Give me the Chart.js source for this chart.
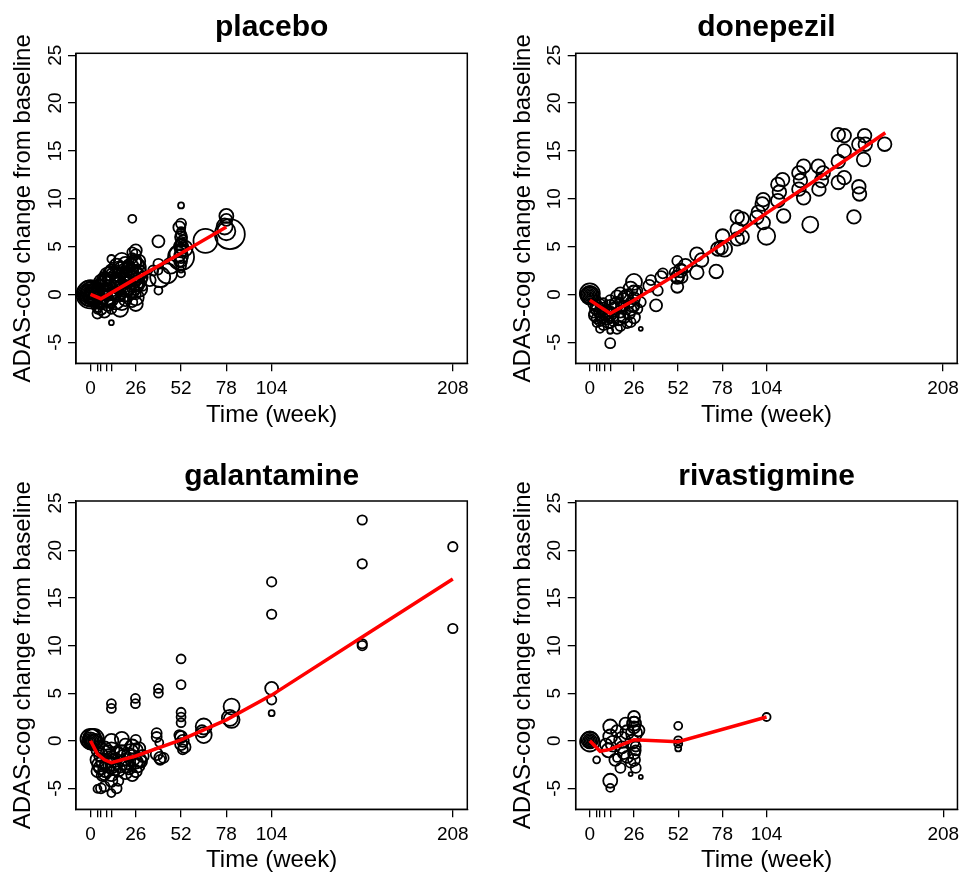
<!DOCTYPE html>
<html>
<head>
<meta charset="utf-8">
<script src="https://cdn.jsdelivr.net/npm/chart.js@4.4.0/dist/chart.umd.min.js"></script>
<style>
html, body { margin: 0; padding: 0; background: #fff; }
#wrap { position: relative; width: 969px; height: 875px; overflow: hidden; }
canvas { position: absolute; }
</style>
</head>
<body>
<div id="wrap">
  <canvas id="c1" width="485" height="437" style="left:0px;top:0px"></canvas>
  <canvas id="c2" width="484" height="437" style="left:485px;top:0px"></canvas>
  <canvas id="c3" width="485" height="438" style="left:0px;top:437px"></canvas>
  <canvas id="c4" width="484" height="438" style="left:485px;top:437px"></canvas>
</div>
<script>
// axis ticks (minor ticks at 4, 6, 9, 12 carry no label, as in R when labels overlap)
var xTicks = [0, 4, 6, 9, 12, 26, 52, 78, 104, 208];
var xTickLabels = ["0", "", "", "", "", "26", "52", "78", "104", "208"];
var yTicks = [-5, 0, 5, 10, 15, 20, 25];

// placebo: study arms (week, ADAS-cog change, n)
var placeboWeeks = [0,0,0,0,0,0,0,0,0,0,0,1,1,2,2,2,
    4,4,4,4,4,4,4, 6,6,6,6,6, 8,8,8,8,8,8,
    12,12,12,12,12,12,12,12,12,
    16,16,16,17,18,18,18,20,20,20,22,22,
    24,24,24,24,24,24,24, 26,26,26,26,26,26,26,26,26,
    28,28,30,30,34,36,39,39,39,39,40,
    52,52,52,52,52,52,52,52,51,52,52,50,54,52,53,51,
    66,78,78,78,80,77,
    5,7,9,10,11,13,14,15,16,18,19,20,21,22,23,24,25,26,27,28,10,14,18,22,26,8,12,16,20,24,
    44,46,52,52,52,52,52];
var placeboChange = [0,0,0,0,0,0,0,0,0,0.1,-0.1,0.2,-0.2,0,0.3,-0.4,
    -0.5,0.2,-1.2,0.8,-0.2,-2.0,-1.6, 0.3,-0.8,1.0,-1.5,0, 1.6,0.5,-0.5,1.5,-1.8,0.2,
    0.5,1.5,-0.5,2.5,3.7,-1.5,-2.95,0.8,-1.0,
    1.2,2.8,0,-1.5,3.5,1.8,0.6,2.3,1.5,-0.6,0.5,3.0,
    1.5,4.4,3.8,7.9,-0.8,0.4,2.5, 4.2,2.0,1.0,3.5,0,-1.0,-0.3,4.6,2.8,
    3.5,1.2,1.8,0.8,1.5,2.5,5.55,0.4,3.2,2.5,1.8,
    2.2,3.0,3.9,4.5,5.0,5.5,6.0,6.6,7.0,7.4,9.3,4.2,4.8,2.6,5.8,3.4,
    5.6,8.2,7.8,6.6,6.3,7.1,
    0.5,1.2,0.0,2.0,1.0,2.2,-0.5,3.0,0.6,2.6,1.0,3.2,0.2,1.8,2.9,1.2,3.4,1.6,2.2,0.6,-1.0,1.8,-0.8,2.4,3.0,0.9,2.0,1.5,0.8,2.0,
    2.2,3.0,4.0,5.2,6.3,3.5,4.8];
var placeboN = [1,6,16,30,49,72,100,144,196,169,121,121,81,100,64,49,
    81,49,36,25,121,25,16, 64,36,25,36,100, 49,49,81,36,36,16,
    100,64,49,36,16,25,6,144,16,
    64,36,49,64,64,100,36,81,49,36,36,25,
    81,25,25,16,25,49,36, 25,64,49,36,25,49,64,36,100,
    36,25,25,16,36,25,36,16,25,16,100,
    16,25,169,36,49,25,36,16,36,25,9,64,64,9,16,25,
    144,49,36,81,225,64,
    100,81,121,64,144,81,100,49,121,64,144,49,81,100,64,144,49,121,81,64,49,100,64,81,64,100,81,144,100,121,
    100,64,49,36,25,36,25];
var placeboFitWeeks = [0, 6, 26, 52, 78];
var placeboFitChange = [0, -0.45, 1.65, 4.3, 7.05];

// donepezil
var donepezilWeeks = [0,0,0,0,0,0,0,0,
    2,2,3,4,4,4,4,6,6,6,6,8,8,8,8,10,10,12,12,12,12,12,12,12,
    14,14,16,16,16,18,18,18,20,20,20,22,22,24,24,24,24,26,26,26,26,26,28,28,30,30,
    35,36,39,40,42,43,50,51.5,51.5,51.5,54,54,
    146.3,149.8,161.8,158.4,162.2,173.6,149.8,161.2,146.3,149.8,146.3,158.4,158.8,155.5,
    134.5,137.4,136.4,134.9,125.9,123.1,124,123.1,125.9,129.8,
    113.5,110.7,111.6,110.7,114.1,102.1,101.5,99.2,102.1,104,98.3,
    86.8,89.7,86.8,89.7,86.8,78.2,77.3,75.4,79.2,74.4,65.8,63,63,56.3,53.4,51.5,
    3,5,7,9,11,13,15,17,19,21,23,25];
var donepezilChange = [0,0,0,0,0,0,0.1,-0.1,
    -1.0,-2.0,-1.5,-2.5,-1.2,-3.0,-0.5,-1.8,-2.8,-3.6,-1.0,-2.2,-1.5,-3.2,-0.8,-2.5,-1.8,-2.0,-1.2,-3.0,-3.8,-5.1,-2.6,-0.6,
    -1.5,-2.8,-0.2,-1.0,-3.6,0.1,-1.8,-3.3,-0.6,-2.4,-1.2,-0.1,-3.0,0.6,-1.6,-2.9,-0.8,1.3,0.2,-2.4,-1.3,-0.4,0.4,-1.5,-3.6,-0.8,
    0.9,1.5,-1.15,0.4,1.8,2.2,2.3,3.5,0.8,1.8,1.8,2.6,
    16.7,16.6,16.6,15.7,15.7,15.7,15.0,14.1,13.9,12.2,11.7,11.25,10.5,8.1,
    13.4,12.7,11.9,11.0,13.4,12.7,11.9,11.0,10.1,7.3,
    12.0,11.5,10.7,9.8,8.2,9.9,9.45,8.6,7.5,6.1,8.05,
    8.1,7.9,6.8,6.0,5.8,6.1,4.9,4.75,4.75,2.4,3.6,4.2,2.3,3.0,2.5,1.8,
    -2.2,-1.6,-2.4,-1.9,-2.9,-2.2,-1.0,-2.5,-1.4,-0.3,-2.0,-1.1];
var donepezilN = [1,6,16,30,49,72,100,85,
    25,16,25,25,36,16,16,36,25,16,25,49,36,25,16,36,25,49,36,25,9,25,16,25,
    36,25,36,49,25,36,36,25,49,36,25,36,25,49,36,25,25,64,49,36,25,36,25,25,4,25,
    36,25,36,25,36,25,25,25,36,36,36,25,
    46,46,46,46,46,46,46,46,46,46,46,46,46,46,
    46,46,46,46,46,46,46,46,46,64,
    46,46,46,46,46,46,46,46,46,76,46,
    46,46,46,46,46,46,46,46,60,46,46,46,46,46,46,46,
    36,49,36,49,36,49,36,49,36,49,36,49];
var donepezilFitWeeks = [0, 12, 26, 52, 78, 104, 130, 156, 174];
var donepezilFitChange = [-0.6, -2.0, -0.6, 2.2, 5.3, 8.5, 11.6, 14.7, 16.9];

// galantamine
var galantamineWeeks = [0,0,0,0,0,0,0,1,2,2,3,
    4,4,4,4,5,6,6,6,7,8,8,8,8,10,10,12,12,12,12,12,12,12,12,12,14,14,15,16,16,17,
    18,18,20,20,20,22,22,24,24,24,25.8,25.8,26,26,26,26,28,28,30,
    38,38,38,39,39,40,40,42,39.5,
    52,52,52,52,52,52,52,54,53,53,51,
    65,65,64,81,80,81,104,104,104,104,104,156,156,156,156,208,208,
    5,9,11,13,16,19,21,23,27,29];
var galantamineChange = [0,0,0,0,0,0,0.2,0.3,0.2,-0.2,0,
    -1.0,-2.0,-3.2,-5.05,-0.5,-1.5,-2.8,-5.0,-3.6,-0.8,-2.2,-3.5,-4.8,-1.2,-2.5,0.0,-1.0,-1.8,-2.6,-3.5,-4.2,-5.5,3.9,3.4,-2.0,-3.0,-5.0,-1.4,-4.2,-2.6,
    0.2,-1.2,-2.2,-3.3,-0.4,-1.5,-2.8,-0.6,-1.8,-3.6,4.45,3.9,0.1,-1.0,-2.2,-3.2,-2.0,-0.8,-1.6,
    0.8,0.4,-1.4,5.5,5.0,-1.8,-2.0,-1.8,-0.2,
    8.6,5.9,3.0,2.5,1.9,0.4,-0.35,-0.65,0.0,-0.9,0.6,
    1.5,0.6,1.0,3.6,2.4,2.2,16.7,13.3,5.5,4.3,2.9,23.2,18.6,10.2,10.0,20.4,11.8,
    -2.5,-3.0,-1.6,-2.3,-3.0,-1.8,-2.6,-1.2,-2.6,-2.2];
var galantamineN = [1,6,16,30,49,72,100,81,100,64,49,
    36,49,36,16,25,49,49,25,36,49,64,36,25,49,64,49,64,49,64,49,36,16,20,20,49,36,25,49,25,49,
    49,49,64,49,36,49,49,49,64,36,20,20,25,49,49,36,49,36,36,
    25,25,36,20,20,36,25,25,16,
    20,20,20,20,20,36,36,36,36,25,25,
    64,64,36,64,64,64,22,22,42,22,9,22,22,22,22,22,22,
    49,64,49,64,49,64,49,64,49,36];
var galantamineFitWeeks = [0, 4, 8, 12, 26, 52, 78, 104, 156, 208];
var galantamineFitChange = [0, -1.4, -2.0, -2.3, -1.6, 0.1, 2.2, 4.8, 10.9, 17.0];

// rivastigmine
var rivastigmineWeeks = [0,0,0,0,0,0,0,
    104,52,52,52,52,4,12,12,30,24,18,27,26,26,26,26,21,12,12,19,11,19,26,25,9.5,22,28.6,27,15,16,14,22,26,27,20,26,24,16];
var rivastigmineChange = [0,0,0,0,0,0.1,-0.1,
    2.5,1.57,-0.3,-0.8,0.05,-2.0,-4.95,-4.2,-3.8,-3.5,-2.85,-2.85,-2.0,-1.3,2.5,1.8,1.8,1.5,0.45,0.1,-1.0,-0.7,0.8,-0.1,-0.4,-1.7,1.1,-0.6,-2.0,1.0,-0.3,0.9,1.4,-1.0,-1.3,2.0,-2.3,-1.8];
var rivastigmineN = [1,6,16,30,49,72,95,
    16,16,16,9,16,12,16,49,4,4,25,25,36,36,36,49,36,49,49,64,49,36,64,49,36,36,36,25,36,36,64,49,36,25,36,25,25,16];
var rivastigmineFitWeeks = [0, 6, 12, 26, 52, 104];
var rivastigmineFitChange = [0, -1.1, -0.9, 0.1, -0.1, 2.5];

var FONT = "'Liberation Sans', Arial, Helvetica, sans-serif";
Chart.defaults.font.family = FONT;
Chart.defaults.color = "#000";

// R-style box around the plot region
var plotBox = {
    id: "plotBox",
    afterDatasetsDraw: function (chart) {
        var a = chart.chartArea;
        var ctx = chart.ctx;
        ctx.save();
        ctx.strokeStyle = "#000";
        ctx.lineWidth = 1.5;
        ctx.strokeRect(a.left, a.top, a.right - a.left, a.bottom - a.top);
        ctx.restore();
    }
};

function drawPanel(id, name, weeks, change, n, fitWeeks, fitChange, lay) {
    var points = weeks.map(function (w, i) {
        return { x: w, y: change[i], r: Math.sqrt(n[i]) };
    });
    var fit = fitWeeks.map(function (w, i) {
        return { x: w, y: fitChange[i] };
    });
    return new Chart(document.getElementById(id), {
        type: "bubble",
        data: {
            datasets: [
                {
                    type: "line",
                    data: fit,
                    borderColor: "#ff0000",
                    borderWidth: 3.5,
                    pointRadius: 0,
                    tension: 0,
                    fill: false,
                    order: 0
                },
                {
                    data: points,
                    backgroundColor: "rgba(0,0,0,0)",
                    borderColor: "#000",
                    borderWidth: 1.8,
                    order: 1
                }
            ]
        },
        options: {
            responsive: false,
            animation: false,
            layout: { padding: lay.padding },
            plugins: {
                legend: { display: false },
                tooltip: { enabled: false },
                title: {
                    display: true,
                    text: name,
                    fullSize: false,
                    color: "#000",
                    font: { size: 30, weight: "bold" },
                    padding: { top: 0, bottom: lay.titleGap }
                }
            },
            scales: {
                x: {
                    type: "linear",
                    min: -8.32,
                    max: 216.32,
                    afterBuildTicks: function (s) {
                        s.ticks = xTicks.map(function (v) { return { value: v }; });
                    },
                    afterFit: function (s) {
                        s.height = lay.xAxis;
                        s.paddingLeft = 0;
                        s.paddingRight = 0;
                    },
                    ticks: {
                        autoSkip: false,
                        maxRotation: 0,
                        padding: 6,
                        color: "#000",
                        font: { size: 19 },
                        callback: function (v) { return xTickLabels[xTicks.indexOf(v)]; }
                    },
                    grid: { drawOnChartArea: false, drawTicks: true, tickLength: 8, color: "#000", lineWidth: 1.3 },
                    border: { display: true, color: "#000", width: 1.3 },
                    title: { display: true, text: "Time (week)", color: "#000", font: { size: 24 }, padding: 0 }
                },
                y: {
                    type: "linear",
                    min: -7.2,
                    max: 25.2,
                    afterBuildTicks: function (s) {
                        s.ticks = yTicks.map(function (v) { return { value: v }; });
                    },
                    afterFit: function (s) {
                        s.width = 76;
                        s.paddingTop = 0;
                        s.paddingBottom = 0;
                    },
                    ticks: {
                        minRotation: 90,
                        maxRotation: 90,
                        crossAlign: "center",
                        padding: 2,
                        color: "#000",
                        font: { size: 19 }
                    },
                    grid: { drawOnChartArea: false, drawTicks: true, tickLength: 8, color: "#000", lineWidth: 1.3 },
                    border: { display: true, color: "#000", width: 1.3 },
                    title: { display: true, text: "ADAS-cog change from baseline", color: "#000", font: { size: 24 }, padding: { top: 9, bottom: 0 } }
                }
            }
        },
        plugins: [plotBox]
    });
}

drawPanel("c1", "placebo", placeboWeeks, placeboChange, placeboN, placeboFitWeeks, placeboFitChange,
    { padding: { left: 0, right: 17.7, top: 9.9, bottom: 7.7 }, titleGap: 7.4, xAxis: 66 });
drawPanel("c2", "donepezil", donepezilWeeks, donepezilChange, donepezilN, donepezilFitWeeks, donepezilFitChange,
    { padding: { left: 14.7, right: 0.7, top: 9.9, bottom: 7.7 }, titleGap: 7.4, xAxis: 66 });
drawPanel("c3", "galantamine", galantamineWeeks, galantamineChange, galantamineN, galantamineFitWeeks, galantamineFitChange,
    { padding: { left: 0, right: 17.7, top: 21.9, bottom: 0.7 }, titleGap: 6.1, xAxis: 65 });
drawPanel("c4", "rivastigmine", rivastigmineWeeks, rivastigmineChange, rivastigmineN, rivastigmineFitWeeks, rivastigmineFitChange,
    { padding: { left: 14.7, right: 0.7, top: 21.9, bottom: 0.7 }, titleGap: 6.1, xAxis: 65 });
</script>
</body>
</html>
